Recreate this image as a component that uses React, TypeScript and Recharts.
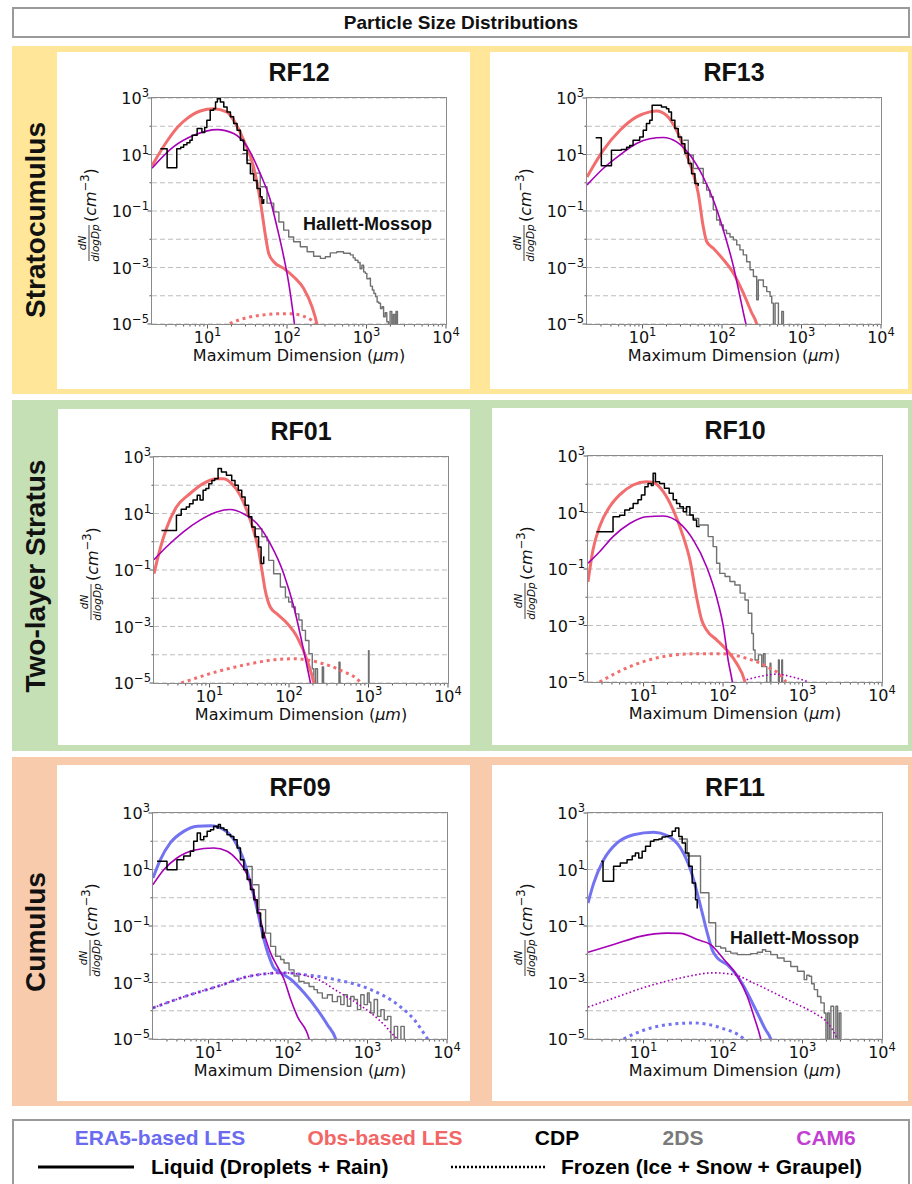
import React from "react";
import { LineChart, Line, XAxis, YAxis, CartesianGrid } from "recharts";

type Pt = [number, number];

// series colours
const ERA5 = "#7373f2";
const OBS = "#f26e6e";
const CAM6 = "#a600b6";
const CDP = "#000000";
const TWO_DS = "#707070";

// axis ticks
const xMajorTicks = [10, 100, 1000, 10000];
const xMinorTicks = [3, 4, 5, 6, 7, 8, 9, 20, 30, 40, 50, 60, 70, 80, 90, 200, 300, 400, 500, 600, 700, 800, 900, 2000, 3000, 4000, 5000, 6000, 7000, 8000, 9000];
const yDecadeTicks = [1e-5, 1e-4, 1e-3, 1e-2, 1e-1, 1, 10, 100, 1000];
const yLabelledTicks = [1e-5, 1e-3, 1e-1, 10, 1000];

// ---- RF12 ----
const rf12Obs: Pt[] = [[2, 4.0], [3.1, 30], [4.3, 100], [5.5, 186], [8.1, 347], [11.9, 417], [17.6, 316], [21.3, 162], [28.5, 32], [38, 3.6], [46, 0.24], [53, 0.016], [58.7, 0.0032], [68, 0.0016], [90.8, 9.3e-4], [121, 4.7e-4], [162, 1.8e-4], [206, 4.1e-5], [238, 1e-5], [250, 5e-6]];
const rf12ObsIce: Pt[] = [[16, 8e-6], [18.5, 1e-5], [25, 1.4e-5], [35, 1.8e-5], [50, 2.1e-5], [80, 2.3e-5], [110, 2.3e-5], [160, 1.9e-5], [210, 1.3e-5], [250, 9e-6]];
const rf12Cam: Pt[] = [[2, 3.3], [3.75, 19], [6.7, 48], [13.2, 76], [21.3, 55], [31.4, 19], [46, 2.1], [61.7, 0.24], [74.8, 0.027], [90.8, 0.0024], [105, 2.8e-4], [116, 4.2e-5], [124, 1e-5], [128, 5e-6]];
const rf12Cdp: Pt[] = [[2.55, 16], [3.1, 3.4], [4.1, 16], [4.6, 18], [5.0, 22], [5.5, 26], [6.0, 32], [6.4, 48], [7.4, 83], [8.5, 60], [9.2, 90], [9.8, 163], [10.8, 365], [11.9, 420], [12.6, 720], [13.3, 950], [14.5, 720], [16, 480], [17.6, 318], [19.4, 215], [21.3, 124], [23.5, 72], [25.9, 32], [28.5, 14], [31.4, 4.8], [34.6, 2.1], [38, 1.2], [41.9, 0.63], [46, 0.32], [48.5, 0.19], [50.8, 0.25], [52, 0.25]];
const rf12TwoDs: Pt[] = [[27.4, 10.7], [31.4, 6.3], [36.7, 2.2], [46, 0.72], [56, 0.19], [68, 0.093], [79, 0.041], [90.8, 0.021], [105, 0.012], [121, 0.0082], [147, 0.0054], [179, 0.0036], [216, 0.0025], [263, 0.0021], [303, 0.0024], [350, 0.0033], [423, 0.0036], [514, 0.0032], [625, 0.0028], [680, 0.0022], [720, 0.0018], [780, 0.0015], [830, 0.0009], [875, 0.0012], [920, 0.0007], [965, 0.00062], [1010, 0.0004], [1080, 0.00042], [1120, 0.00022], [1185, 0.00016], [1240, 0.00012], [1300, 9.3e-5], [1360, 6e-5], [1430, 5.4e-5], [1500, 3.5e-5], [1570, 4.1e-5], [1640, 1.8e-5], [1720, 2.5e-5], [1800, 1.2e-5], [1890, 1e-6], [1980, 2.8e-5], [2080, 1e-6], [2170, 2.2e-5], [2270, 1e-6], [2350, 2.8e-5], [2450, 1e-6], [2500, 1e-6]];

// ---- RF13 ----
const rf13Obs: Pt[] = [[2, 1.6], [3.2, 14], [5.2, 72], [8.4, 214], [12.3, 323], [15, 350], [20, 245], [26.8, 72], [34.1, 14], [43.5, 2.1], [50.2, 0.42], [58, 0.028], [64, 0.0083], [77.6, 0.0048], [104, 0.0019], [139, 6.3e-4], [185, 1.26e-4], [236, 2.5e-5], [273, 1e-5], [285, 6e-6]];
const rf13Cam: Pt[] = [[2, 0.83], [3.2, 3.2], [5.2, 9.6], [8.4, 24.6], [12.3, 36], [18.2, 40], [26.8, 28], [39.5, 9.6], [58, 1.6], [77.6, 0.25], [104, 0.021], [139, 0.0011], [168, 9.5e-5], [200, 1e-5], [210, 6e-6]];
const rf13Cdp: Pt[] = [[2.57, 39], [3.03, 4], [4.06, 14], [5.4, 15], [6.3, 18], [6.9, 21], [7.6, 32], [8.4, 32], [9.2, 42], [10.2, 72], [11.2, 124], [12.3, 162], [13.2, 550], [17.3, 480], [20, 420], [21.4, 320], [23.1, 162], [25.5, 83], [28.1, 42], [31, 24], [34.1, 11], [37.6, 4.8], [41.4, 2.1], [45.6, 0.95], [50.2, 0.8], [51, 0.8]];
const rf13TwoDs: Pt[] = [[32.5, 32], [37.6, 9.5], [43.5, 3.2], [58, 0.95], [64, 0.55], [70.5, 0.32], [77.6, 0.11], [85.5, 0.048], [94, 0.032], [104, 0.021], [114, 0.016], [126, 0.012], [139, 0.0095], [153, 0.0063], [168, 0.0042], [185, 0.0028], [204, 0.0016], [225, 8.3e-4], [248, 4.8e-4], [273, 7.2e-5], [286, 3.6e-4], [331, 2.1e-4], [365, 1.4e-4], [402, 9.5e-5], [422, 5.5e-5], [443, 1e-6], [465, 5.5e-5], [512, 1e-6], [564, 2.8e-5], [592, 1e-6], [600, 1e-6]];

// ---- RF01 ----
const rf01Obs: Pt[] = [[2, 0.074], [2.36, 0.5], [2.86, 2.9], [3.83, 17], [5.65, 50], [8.3, 114], [12.3, 170], [14.9, 170], [19, 114], [24.3, 44], [29.4, 13], [35.8, 2.5], [41.4, 0.5], [45.6, 0.098], [50.2, 0.019], [58, 0.0049], [70.6, 0.0028], [94.4, 0.0013], [126, 4.3e-4], [169, 6.3e-5], [205, 1e-5], [215, 5e-6]];
const rf01ObsIce: Pt[] = [[4.4, 1e-5], [12.3, 2.5e-5], [32.5, 4.8e-5], [70.6, 6.8e-5], [115, 7.2e-5], [226, 5.5e-5], [447, 2.8e-5], [800, 1e-5], [850, 8e-6]];
const rf01Cam: Pt[] = [[2, 0.23], [2.86, 0.65], [4.65, 2.2], [7.6, 5.8], [12.3, 11.3], [18.1, 13.8], [26.7, 9.8], [39.4, 4.4], [58, 0.85], [85.7, 0.074], [115, 0.0049], [153, 1.4e-4], [186, 1e-5], [195, 5e-6]];
const rf01Cdp: Pt[] = [[2.48, 2.5], [3.83, 8.7], [4.4, 14], [5.1, 17], [5.6, 22], [6.2, 30], [7.0, 44], [7.6, 30], [8.3, 66], [9.0, 76], [9.8, 114], [10.7, 148], [11.6, 170], [12.8, 390], [14.1, 295], [16.3, 224], [19, 148], [20.9, 100], [23, 66], [25.4, 38], [28, 19.5], [31, 7.6], [34, 3.3], [37.4, 1.5], [41.4, 0.65], [44.5, 0.17], [48, 0.29], [49, 0.29]];
const rf01TwoDs: Pt[] = [[37.6, 2.9], [45.6, 1.5], [52.8, 1.1], [55.5, 0.22], [64, 0.074], [77.8, 0.025], [90, 0.011], [99, 0.0074], [109, 0.0049], [120, 0.0028], [133, 0.0017], [146, 7.3e-4], [161, 3.2e-4], [178, 1.1e-4], [196, 3.2e-5], [205, 1e-6], [216, 3.2e-5], [228, 1e-6], [255, 1e-6], [262, 3.7e-5], [272, 1e-6], [415, 1e-6], [425, 5.5e-5], [438, 1e-6], [985, 1e-6], [1000, 1.4e-4], [1015, 1e-6]];

// ---- RF10 ----
const rf10Obs: Pt[] = [[2, 0.035], [2.31, 0.47], [2.8, 3.2], [3.75, 16], [5.0, 42], [7.4, 94], [10.9, 122], [13.2, 115], [17.7, 55], [23.6, 12.3], [31.6, 1.4], [38.3, 0.21], [46.5, 0.01], [53.7, 0.0016], [62.1, 6.9e-4], [83, 3.1e-4], [111, 1.35e-4], [148, 4.6e-5], [189, 1e-5], [200, 5e-6]];
const rf10ObsIce: Pt[] = [[2.8, 1e-5], [6.7, 3.5e-5], [17.7, 7.9e-5], [46.5, 1.0e-4], [91, 1.0e-4], [198, 6.9e-5], [355, 3.5e-5], [550, 1.55e-5], [620, 1e-5]];
const rf10Cam: Pt[] = [[2, 0.16], [2.8, 0.41], [4.13, 1.4], [6.7, 4.1], [10.9, 7.1], [17.7, 7.5], [28.6, 4.1], [42.2, 1.07], [62.1, 0.12], [83, 0.01], [101, 9e-4], [116, 6e-5], [131, 1e-5], [136, 5e-6]];
const rf10CamIce: Pt[] = [[198, 1.2e-5], [300, 1.6e-5], [474, 1.9e-5], [750, 1.5e-5], [1190, 1e-5]];
const rf10Cdp: Pt[] = [[2.55, 2.1], [4.13, 7.1], [5.0, 8], [5.8, 12.3], [6.7, 14], [7.4, 21], [8.5, 28], [9.4, 42], [10.4, 81], [11.4, 107], [12.5, 90], [13.2, 245], [14.1, 122], [15.9, 107], [18.3, 72], [21, 48], [23.6, 28], [26, 21], [28.6, 16], [31.6, 10.7], [34.7, 16], [38.3, 8.1], [42.2, 5.4], [46.5, 3.2], [51, 3.2]];
const rf10TwoDs: Pt[] = [[26, 14], [34.7, 8.1], [42.2, 6.2], [49.4, 3.6], [65, 1.4], [75, 0.62], [83, 0.16], [91, 0.07], [106, 0.054], [122, 0.036], [141, 0.027], [164, 0.014], [189, 0.008], [208, 0.0027], [230, 5.2e-4], [241, 1.35e-4], [253, 6e-5], [279, 9.1e-5], [307, 3.5e-5], [322, 1.0e-4], [338, 3.5e-5], [355, 1e-6], [391, 4.6e-5], [400, 1e-6], [490, 1e-6], [498, 6e-5], [510, 1e-6], [540, 1e-6], [548, 6e-5], [560, 1e-6]];

// ---- RF09 ----
const rf09Era: Pt[] = [[2, 5], [2.47, 22], [3.3, 87], [4.87, 224], [7.2, 339], [10.6, 355], [15.6, 257], [20.8, 114], [26.5, 30], [33.7, 3.3], [41, 0.38], [49.8, 0.033], [57.5, 0.0085], [66.5, 0.0032], [80.7, 0.0022], [108, 0.0013], [159, 4.3e-4], [234, 1.1e-4], [313, 3.2e-5], [398, 1e-5], [420, 6e-6]];
const rf09EraIce: Pt[] = [[2, 1.26e-4], [4.87, 3.1e-4], [12.8, 7.2e-4], [33.7, 0.0017], [89, 0.0022], [159, 0.0019], [380, 0.0013], [1100, 5.6e-4], [2390, 1.65e-4], [3870, 4.8e-5], [5700, 1e-5], [6200, 7e-6]];
const rf09Cam: Pt[] = [[2, 2.9], [2.73, 9.8], [4.0, 25.5], [6.5, 48], [11.6, 58], [17.1, 44], [22.9, 22], [30.6, 6.6], [39, 0.85], [49.8, 0.056], [60.4, 0.011], [73.3, 0.0037], [89, 0.0013], [108, 2.5e-4], [131, 6.3e-5], [184, 1e-5], [195, 5e-6]];
const rf09CamIce: Pt[] = [[2, 1.26e-4], [4.87, 3.1e-4], [12.8, 7.2e-4], [33.7, 0.0017], [89, 0.0022], [234, 0.0013], [418, 4.9e-4], [747, 1.8e-4], [1100, 8.3e-5], [1650, 3e-5], [2100, 1.4e-5], [2400, 1e-5], [2600, 8e-6]];
const rf09Cdp: Pt[] = [[2.25, 19.5], [3.0, 9.8], [4.0, 22], [4.87, 30], [5.9, 44], [6.5, 100], [7.2, 195], [7.9, 114], [8.7, 148], [9.6, 224], [10.6, 257], [11.6, 339], [12.8, 295], [13.3, 389], [14.1, 295], [15.6, 257], [17.1, 170], [18.9, 148], [20.8, 114], [22.9, 58], [25.2, 22], [27.8, 9.8], [30.6, 4.4], [33.7, 1.95], [37.2, 0.85], [41, 0.29], [45.2, 0.098], [47.5, 0.038], [49.8, 0.056], [51, 0.056]];
const rf09TwoDs: Pt[] = [[30.6, 12.8], [35.4, 2.9], [43, 0.38], [52.2, 0.056], [60.4, 0.019], [69.8, 0.0085], [80.7, 0.0065], [89, 0.0049], [103, 0.0028], [119, 0.0017], [137, 0.0011], [159, 9.5e-4], [184, 7.2e-4], [212, 5.6e-4], [234, 4.3e-4], [270, 2.8e-4], [313, 3.7e-4], [361, 2.1e-4], [418, 3.2e-4], [460, 1.65e-4], [507, 3.7e-4], [558, 1.45e-4], [615, 3.2e-4], [678, 2.5e-4], [747, 1.1e-4], [822, 3.7e-4], [906, 1.65e-4], [998, 4.3e-4], [1050, 2e-4], [1100, 8.3e-5], [1212, 2.5e-4], [1336, 6.3e-5], [1472, 1.1e-4], [1622, 4.8e-5], [1787, 6.3e-5], [1969, 1e-6], [2168, 2.8e-5], [2389, 1e-6], [2631, 2.8e-5], [2898, 1e-6], [3000, 1e-6]];

// ---- RF11 ----
const rf11Era: Pt[] = [[2, 0.65], [2.36, 3.3], [3.15, 22], [4.65, 87], [7.5, 170], [13.5, 209], [19.8, 158], [29.2, 58], [39, 9.8], [52.2, 0.5], [63.4, 0.056], [73.3, 0.014], [84.7, 0.0074], [113, 0.0043], [151, 0.0017], [202, 4.3e-4], [270, 8.3e-5], [344, 2.1e-5], [398, 1e-5], [420, 6e-6]];
const rf11EraIce: Pt[] = [[5.6, 1e-5], [9.1, 1.86e-5], [19.8, 3.2e-5], [43, 3.7e-5], [93, 2.5e-5], [184, 1e-5], [200, 8e-6]];
const rf11Cam: Pt[] = [[2, 0.0117], [4.2, 0.022], [9.1, 0.043], [19.8, 0.056], [29.2, 0.055], [47.3, 0.033], [69.8, 0.022], [103, 0.0065], [151, 0.0017], [202, 3.2e-4], [245, 6.3e-5], [298, 1e-5], [310, 6e-6]];
const rf11CamIce: Pt[] = [[2, 1.35e-4], [4.2, 2.8e-4], [11.1, 7.2e-4], [29.2, 0.00145], [76.9, 0.0022], [137, 0.0019], [245, 9.5e-4], [439, 4.3e-4], [783, 1.9e-4], [1402, 8.3e-5], [2066, 3.7e-5], [2631, 1.25e-5], [2800, 8e-6]];
const rf11Cdp: Pt[] = [[2.94, 19.5], [3.09, 3.8], [4.2, 13], [5.1, 17], [6.2, 22], [7.2, 30], [7.9, 38], [8.7, 25.5], [9.6, 44], [10.6, 66], [12.2, 100], [13.5, 114], [15.6, 120], [17.1, 141], [18.9, 148], [20.8, 158], [22.9, 224], [25.2, 295], [27.8, 148], [30.6, 87], [33.7, 38], [37.2, 13], [40.9, 3.3], [45.1, 0.85], [47.3, 0.43], [48, 0.43]];
const rf11TwoDs: Pt[] = [[27.8, 120], [35.4, 30], [52.1, 1.5], [66.4, 0.13], [80.7, 0.019], [93.3, 0.0166], [108, 0.0126], [125, 0.011], [151, 0.0097], [184, 0.0097], [223, 0.0105], [270, 0.0117], [313, 0.0145], [344, 0.0126], [398, 0.0097], [483, 0.0074], [586, 0.0056], [711, 0.0037], [865, 0.0025], [1050, 0.00126], [1130, 0.0018], [1213, 0.00166], [1300, 9e-4], [1403, 5.6e-4], [1545, 3.2e-4], [1702, 1.9e-4], [1875, 8.3e-5], [1969, 1e-6], [2067, 8.3e-5], [2170, 1e-6], [2277, 1.45e-4], [2462, 1e-6], [2632, 1.45e-4], [2762, 1e-6], [2898, 8.3e-5], [3041, 1e-6], [3100, 1e-6]];

interface SeriesSpec {
  pts: Pt[];
  color: string;
  width: number;
  dash?: string;
  step?: boolean;
}

interface PanelSpec {
  title: string;
  left: number;
  top: number;
  note?: { text: string; dx: number; dy: number };
  series: SeriesSpec[];
}

const liquidLes = (pts: Pt[], color: string): SeriesSpec => ({ pts, color, width: 3 });
const frozenLes = (pts: Pt[], color: string): SeriesSpec => ({ pts, color, width: 3, dash: "3 3.8" });
const cam = (pts: Pt[]): SeriesSpec => ({ pts, color: CAM6, width: 1.6 });
const camIce = (pts: Pt[]): SeriesSpec => ({ pts, color: CAM6, width: 1.6, dash: "1.6 2.4" });
const cdp = (pts: Pt[]): SeriesSpec => ({ pts, color: CDP, width: 1.5, step: true });
const twoDs = (pts: Pt[]): SeriesSpec => ({ pts, color: TWO_DS, width: 1.4, step: true });

const panels: PanelSpec[] = [
  {
    title: "RF12", left: 152, top: 98, note: { text: "Hallett-Mossop", dx: 151, dy: 126 },
    series: [twoDs(rf12TwoDs), liquidLes(rf12Obs, OBS), frozenLes(rf12ObsIce, OBS), cam(rf12Cam), cdp(rf12Cdp)],
  },
  {
    title: "RF13", left: 587, top: 98,
    series: [twoDs(rf13TwoDs), liquidLes(rf13Obs, OBS), cam(rf13Cam), cdp(rf13Cdp)],
  },
  {
    title: "RF01", left: 154, top: 457,
    series: [twoDs(rf01TwoDs), liquidLes(rf01Obs, OBS), frozenLes(rf01ObsIce, OBS), cam(rf01Cam), cdp(rf01Cdp)],
  },
  {
    title: "RF10", left: 588, top: 456,
    series: [twoDs(rf10TwoDs), liquidLes(rf10Obs, OBS), frozenLes(rf10ObsIce, OBS), cam(rf10Cam), camIce(rf10CamIce), cdp(rf10Cdp)],
  },
  {
    title: "RF09", left: 153, top: 813,
    series: [twoDs(rf09TwoDs), liquidLes(rf09Era, ERA5), frozenLes(rf09EraIce, ERA5), cam(rf09Cam), camIce(rf09CamIce), cdp(rf09Cdp)],
  },
  {
    title: "RF11", left: 588, top: 813, note: { text: "Hallett-Mossop", dx: 142, dy: 125 },
    series: [twoDs(rf11TwoDs), liquidLes(rf11Era, ERA5), frozenLes(rf11EraIce, ERA5), cam(rf11Cam), camIce(rf11CamIce), cdp(rf11Cdp)],
  },
];

const PW = 294;
const PH = 226;
const YW = 60;
const MT = 22;
const MR = 30;
const AXIS_FONT = "'DejaVu Sans', sans-serif";
const BOLD_FONT = "'Liberation Sans', Arial, sans-serif";

const expLabel = (v: number) => {
  const e = Math.round(Math.log10(v));
  return e < 0 ? `\u2212${-e}` : `${e}`;
};

const renderXTick = (p: any) => {
  const v = p.payload.value;
  const major = xMajorTicks.includes(v);
  return (
    <g>
      <line x1={p.x} x2={p.x} y1={p.y} y2={p.y + (major ? 4.5 : 2.5)} stroke="#555" strokeWidth={1} />
      {major && (
        <text x={p.x} y={p.y + 19} textAnchor="middle" fontSize={16} fontFamily={AXIS_FONT} fill="#111">
          10<tspan dy={-7} fontSize={11.5}>{expLabel(v)}</tspan>
        </text>
      )}
    </g>
  );
};

const renderYTick = (p: any) => {
  const v = p.payload.value;
  const labelled = yLabelledTicks.some((t) => Math.abs(Math.log10(t) - Math.log10(v)) < 0.01);
  return (
    <g>
      <line x1={p.x - (labelled ? 4.5 : 2.5)} x2={p.x} y1={p.y} y2={p.y} stroke="#555" strokeWidth={1} />
      {labelled && (
        <text x={p.x - 3} y={p.y + 6} textAnchor="end" fontSize={16} fontFamily={AXIS_FONT} fill="#111">
          10<tspan dy={-7} fontSize={11.5}>{expLabel(v)}</tspan>
        </text>
      )}
    </g>
  );
};

function YLabel({ left, top }: { left: number; top: number }) {
  const cx = left - 62;
  const cy = top + PH / 2;
  return (
    <svg style={{ position: "absolute", left: cx - 60, top: cy - 60 }} width={120} height={120}>
      <g transform="translate(60,60) rotate(-90)" fontFamily={AXIS_FONT} fill="#111">
        <text x={-32} y={-4} textAnchor="middle" fontSize={10.5} fontStyle="italic">dN</text>
        <line x1={-50} x2={-14} y1={-1} y2={-1} stroke="#111" strokeWidth={0.8} />
        <text x={-32} y={9} textAnchor="middle" fontSize={10.5} fontStyle="italic">dlogDp</text>
        <text x={-11} y={6} fontSize={16}>
          (<tspan fontStyle="italic">cm</tspan>
          <tspan dy={-7} fontSize={11.5}>{"\u22123"}</tspan>
          <tspan dy={7}>)</tspan>
        </text>
      </g>
    </svg>
  );
}

function Panel({ spec }: { spec: PanelSpec }) {
  const { left, top } = spec;
  return (
    <>
      <div
        style={{
          position: "absolute", left, top: top - 41, width: PW, height: 30, lineHeight: "30px",
          textAlign: "center", fontFamily: BOLD_FONT, fontWeight: 700, fontSize: 25, color: "#111",
        }}
      >
        {spec.title}
      </div>
      <div style={{ position: "absolute", left: left - YW, top: top - MT }}>
        <LineChart width={YW + PW + MR} height={MT + PH + 40} margin={{ top: MT, right: MR, bottom: 0, left: 0 }}>
          <CartesianGrid vertical={false} stroke="#bdbdbd" strokeDasharray="5 3" strokeWidth={1.1} />
          <XAxis
            type="number" dataKey="x" scale="log" domain={[2, 10000]} allowDataOverflow
            ticks={[...xMinorTicks, ...xMajorTicks]} interval={0} tick={renderXTick}
            tickLine={false} axisLine={false} tickSize={0} tickMargin={0} height={40}
          />
          <YAxis
            type="number" scale="log" domain={[1e-5, 1000]} allowDataOverflow
            ticks={yDecadeTicks} interval={0} tick={renderYTick}
            tickLine={false} axisLine={false} tickSize={0} tickMargin={0} width={YW}
          />
          {spec.series.map((s, i) => (
            <Line
              key={i}
              data={s.pts.map(([x, y]) => ({ x, y }))}
              dataKey="y"
              type={s.step ? "stepAfter" : "monotone"}
              stroke={s.color}
              strokeWidth={s.width}
              strokeDasharray={s.dash}
              strokeLinejoin="round"
              dot={false}
              activeDot={false}
              isAnimationActive={false}
            />
          ))}
        </LineChart>
      </div>
      {/* axes frame */}
      <div
        style={{
          position: "absolute", left: left - 0.75, top: top - 0.75, width: PW + 1.5, height: PH + 1.5,
          border: "1.5px solid #8a8a8a", boxSizing: "border-box", pointerEvents: "none",
        }}
      />
      <YLabel left={left} top={top} />
      <div
        style={{
          position: "absolute", left, top: top + PH + 22, width: PW, lineHeight: "20px",
          textAlign: "center", fontFamily: AXIS_FONT, fontSize: 16, color: "#111", whiteSpace: "nowrap",
        }}
      >
        Maximum Dimension (<i>μm</i>)
      </div>
      {spec.note && (
        <div
          style={{
            position: "absolute", left: left + spec.note.dx, top: top + spec.note.dy - 11, lineHeight: "22px",
            fontFamily: BOLD_FONT, fontWeight: 700, fontSize: 18, color: "#111", whiteSpace: "nowrap",
          }}
        >
          {spec.note.text}
        </div>
      )}
    </>
  );
}

const bands = [
  { label: "Stratocumulus", color: "#FFE699", top: 46, height: 348, cards: [[57, 52, 413, 337], [490, 52, 418, 337]] },
  { label: "Two-layer Stratus", color: "#C5E0B4", top: 400, height: 351, cards: [[58, 409, 412, 336], [492, 408, 416, 337]] },
  { label: "Cumulus", color: "#F8CBAD", top: 757, height: 349, cards: [[57, 765, 413, 336], [492, 765, 416, 336]] },
];

const legendSources = [
  { text: "ERA5-based LES", color: "#6b6bf2", cx: 160 },
  { text: "Obs-based LES", color: "#f26666", cx: 385 },
  { text: "CDP", color: "#000000", cx: 557 },
  { text: "2DS", color: "#7a7a7a", cx: 683 },
  { text: "CAM6", color: "#c23fd2", cx: 826 },
];

export default function App() {
  return (
    <div style={{ position: "absolute", left: 0, top: 0, width: 912, height: 1184, background: "#fff", overflow: "hidden" }}>
      <div
        style={{
          position: "absolute", left: 12, top: 7, width: 898, height: 31, border: "2px solid #9a9a9a",
          boxSizing: "border-box", display: "flex", alignItems: "center", justifyContent: "center",
          fontFamily: BOLD_FONT, fontWeight: 700, fontSize: 19, color: "#111",
        }}
      >
        Particle Size Distributions
      </div>

      {bands.map((b) => (
        <React.Fragment key={b.label}>
          <div style={{ position: "absolute", left: 12, top: b.top, width: 900, height: b.height, background: b.color }} />
          {b.cards.map(([x, y, w, h], i) => (
            <div key={i} style={{ position: "absolute", left: x, top: y, width: w, height: h, background: "#fff" }} />
          ))}
          <div
            style={{
              position: "absolute", left: 36, top: b.top + b.height / 2, width: 320, textAlign: "center",
              transform: "translate(-50%, -50%) rotate(-90deg)", fontFamily: BOLD_FONT, fontWeight: 700,
              fontSize: 28, color: "#111", whiteSpace: "nowrap",
            }}
          >
            {b.label}
          </div>
        </React.Fragment>
      ))}

      {panels.map((p) => (
        <Panel key={p.title} spec={p} />
      ))}

      <div
        style={{
          position: "absolute", left: 12, top: 1119, width: 898, height: 80, border: "2px solid #9a9a9a",
          boxSizing: "border-box",
        }}
      />
      {legendSources.map((l) => (
        <div
          key={l.text}
          style={{
            position: "absolute", left: l.cx, top: 1126, transform: "translateX(-50%)", lineHeight: "24px",
            fontFamily: BOLD_FONT, fontWeight: 700, fontSize: 21, color: l.color, whiteSpace: "nowrap",
          }}
        >
          {l.text}
        </div>
      ))}
      <svg style={{ position: "absolute", left: 0, top: 1150 }} width={912} height={34}>
        <line x1={38} x2={134} y1={17} y2={17} stroke="#000" strokeWidth={3} />
        <line x1={451} x2={547} y1={17} y2={17} stroke="#000" strokeWidth={2.5} strokeDasharray="2 2" />
      </svg>
      <div
        style={{
          position: "absolute", left: 151, top: 1155, lineHeight: "24px", fontFamily: BOLD_FONT,
          fontWeight: 700, fontSize: 21, color: "#000", whiteSpace: "nowrap",
        }}
      >
        Liquid (Droplets + Rain)
      </div>
      <div
        style={{
          position: "absolute", left: 561, top: 1155, lineHeight: "24px", fontFamily: BOLD_FONT,
          fontWeight: 700, fontSize: 21, color: "#000", whiteSpace: "nowrap",
        }}
      >
        Frozen (Ice + Snow + Graupel)
      </div>
    </div>
  );
}
